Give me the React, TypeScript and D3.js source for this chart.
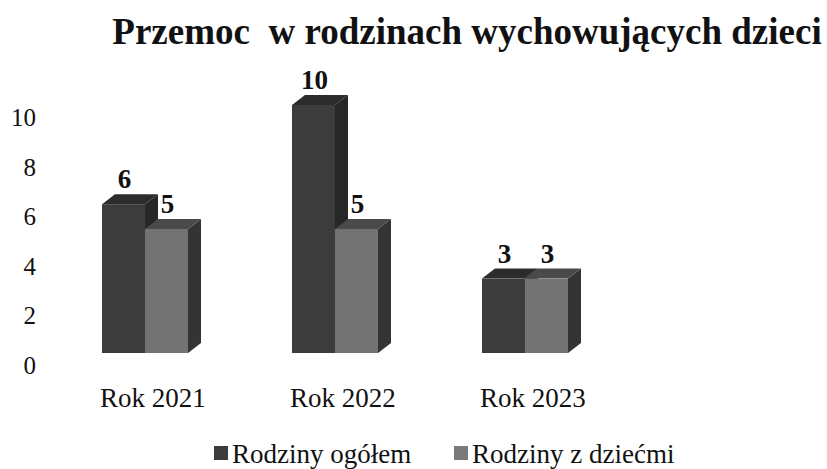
import React from 'react';
import * as d3 from 'd3';

const categories = ['Rok 2021', 'Rok 2022', 'Rok 2023'];
const seriesNames = ['Rodziny ogółem', 'Rodziny z dziećmi'];
const ogolem = [6, 10, 3];
const zDziecmi = [5, 5, 3];
const yTicks = [0, 2, 4, 6, 8, 10];

const W = 827;
const H = 469;
const DX = 13; // 3d depth offset
const DY = 10;

const faces = [
  { front: '#3c3c3c', top: '#2c2c2c', side: '#272727', legend: '#3c3c3c' },
  { front: '#737373', top: '#4a4a4a', side: '#343434', legend: '#7a7a7a' },
];

const font = 'Liberation Serif, Times New Roman, serif';

export default function App() {
  const x = d3.scaleBand().domain(categories).range([50, 620]).padding(0);
  const x1 = d3.scaleBand().domain(seriesNames).range([0, 86]);
  const y = d3.scaleLinear().domain([0, 10]).range([353, 105]);
  const series = [ogolem, zDziecmi];

  const bars: React.ReactNode[] = [];
  const labels: React.ReactNode[] = [];
  categories.forEach((c, i) => {
    const gx = x(c)! + x.bandwidth() / 2 - 43;
    series.forEach((vals, s) => {
      const v = vals[i];
      const x0 = gx + x1(seriesNames[s])!;
      const w = x1.bandwidth();
      const yt = y(v);
      const yb = y(0);
      const f = faces[s];
      bars.push(
        <g key={`${c}-${s}`}>
          <path
            d={`M${x0 + w},${yt} L${x0 + w + DX},${yt - DY} L${x0 + w + DX},${yb - DY} L${x0 + w},${yb} Z`}
            fill={f.side}
          />
          <path
            d={`M${x0},${yt} L${x0 + DX},${yt - DY} L${x0 + w + DX},${yt - DY} L${x0 + w},${yt} Z`}
            fill={f.top}
          />
          <rect x={x0} y={yt} width={w} height={yb - yt} fill={f.front} />
        </g>
      );
      labels.push(
        <text
          key={`l-${c}-${s}`}
          x={x0 + w / 2 + 1}
          y={yt - DY - 6}
          textAnchor="middle"
          fontWeight="bold"
          fontSize={27}
          fill="#111"
        >
          {v}
        </text>
      );
    });
  });

  return (
    <svg width={W} height={H} style={{ position: 'absolute', left: 0, top: 0, background: '#fff', fontFamily: font }}>
      <text x={467} y={44} textAnchor="middle" fontWeight="bold" fontSize={37} fill="#111" style={{ whiteSpace: 'pre' }}>
        {'Przemoc  w rodzinach wychowujących dzieci'}
      </text>
      {yTicks.map(t => (
        <text key={t} x={36} y={y(t) + 21} textAnchor="end" fontSize={25} fill="#111">
          {t}
        </text>
      ))}
      {bars}
      {labels}
      {categories.map(c => (
        <text key={c} x={x(c)! + x.bandwidth() / 2 + 8} y={407} textAnchor="middle" fontSize={27} fill="#111">
          {c}
        </text>
      ))}
      {seriesNames.map((n, s) => {
        const lx = s === 0 ? 214 : 454;
        return (
          <g key={n}>
            <rect x={lx} y={446} width={14} height={14} fill={faces[s].legend} />
            <text x={lx + 18} y={463} fontSize={27} fill="#111">
              {n}
            </text>
          </g>
        );
      })}
    </svg>
  );
}
